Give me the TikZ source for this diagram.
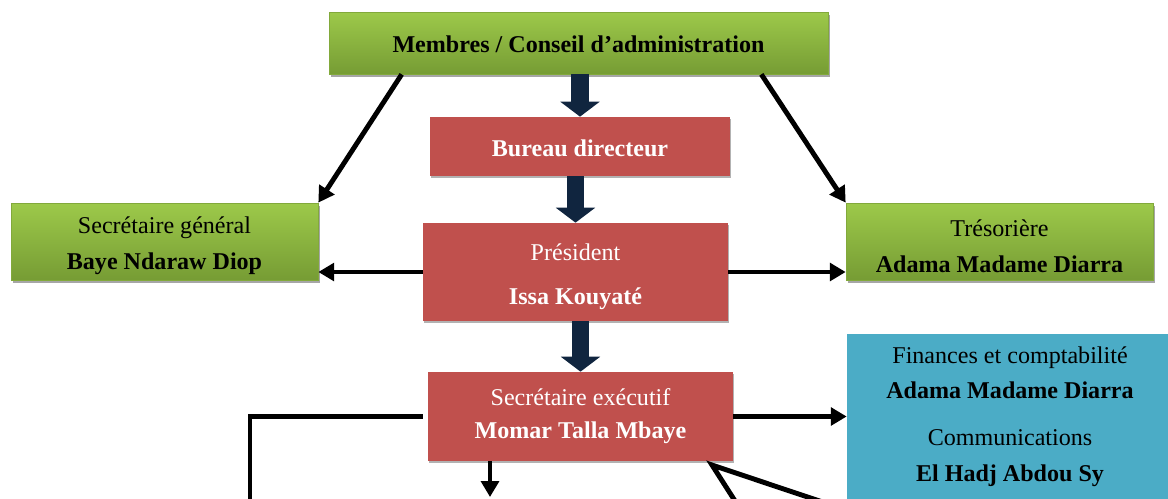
\documentclass[tikz,border=0pt]{standalone}
\usepackage{fontspec}
\setmainfont{Liberation Serif}
\usetikzlibrary{positioning,shadows,arrows.meta}
\definecolor{vertclair}{RGB}{157,201,74}
\definecolor{vertfonce}{RGB}{118,156,52}
\definecolor{rouge}{RGB}{192,80,77}
\definecolor{bleu}{RGB}{75,172,198}
\definecolor{marine}{RGB}{16,37,63}
\newcommand{\hautligne}[1]{\rule{0pt}{#1}}

\begin{document}
\begin{tikzpicture}
    [x=0.02cm,y=-0.02cm,
     every node/.style={inner sep=0pt, align=center, font=\fontsize{13.7}{20.4}\selectfont},
     greenbox/.style={top color=vertclair, bottom color=vertfonce, draw=vertfonce!70!vertclair, thin,
       drop shadow={shadow xshift=1pt, shadow yshift=-1.7pt, fill=black!35, opacity=1}},
     redbox/.style={fill=rouge, text=white,
       drop shadow={shadow xshift=0.6pt, shadow yshift=-1.1pt, fill=black!30, opacity=1}},
     bluebox/.style={fill=bleu},
     bigarrow/.style={line width=10pt, draw=marine, -{Triangle[width=22pt,length=8.5pt]}},
     arr/.style={line width=2.8pt, -{Triangle[width=10pt,length=9pt]}},
     conn/.style={line width=2.8pt}]
  \useasboundingbox (0,0) rectangle (1168,498);
  \clip (0,0) rectangle (1168,498);

  \node[greenbox, minimum width=9.98cm, minimum height=1.24cm] (memb) at (578.5,43) {\hautligne{10.5pt}\bfseries Membres / Conseil d’administration};
  \node[redbox, minimum width=6cm, minimum height=1.18cm] (bur) at (580,146.5) {\hautligne{11pt}\bfseries Bureau directeur};
  \node[redbox, minimum width=6.1cm, minimum height=1.96cm] (pres) at (575.5,272) {\hautligne{15pt}Président\\[5pt] \bfseries Issa Kouyaté};
  \node[greenbox, minimum width=6.14cm, minimum height=1.54cm] (sg) at (164.5,241.5) {\hautligne{14.5pt}Secrétaire général\\ \bfseries Baye Ndaraw Diop};
  \node[greenbox, minimum width=6.14cm, minimum height=1.54cm] (tres) at (999.5,241.5) {\hautligne{14.5pt}Trésorière\\ \bfseries Adama Madame Diarra};
  \node[redbox, minimum width=6.1cm, minimum height=1.78cm] (se) at (580.5,416.5) {Secrétaire exécutif\\[-1.7pt] \bfseries Momar Talla Mbaye};
  \node[bluebox, minimum width=6.52cm, minimum height=3.3cm] (fin) at (1010,416.5)
    {Finances et comptabilité\\ \bfseries Adama Madame Diarra\\[6.2pt] Communications\\ \bfseries El Hadj Abdou Sy};

  \coordinate (bl) at (250,540);
  \coordinate (bd) at (490,497);
  \coordinate (cv) at (712,465);
  \coordinate (b1) at (760,540);
  \coordinate (b2) at (936,540);

  % chaine de commandement
  \foreach \from/\to in {memb/bur, bur/pres, pres/se}
    \draw[bigarrow] (\from.south -| \to.north) -- (\to.north);

  \draw[arr] ([xshift=1.46cm]memb.south west) -- (sg.north east);
  \draw[arr] ([xshift=-1.34cm]memb.south east) -- (tres.north west);

  \foreach \from/\to in {pres.west/sg.east, pres.east/tres.west, se.east/fin.west}
    \draw[arr] (\from) -- (\from -| \to);

  % vers le bas (coupe)
  \draw[conn] ([xshift=-0.1cm]se.west) -| (bl);
  \draw[arr] (se.south -| bd) -- (bd);
  \draw[conn] (b1) -- (cv) -- (b2);
\end{tikzpicture}
\end{document}
